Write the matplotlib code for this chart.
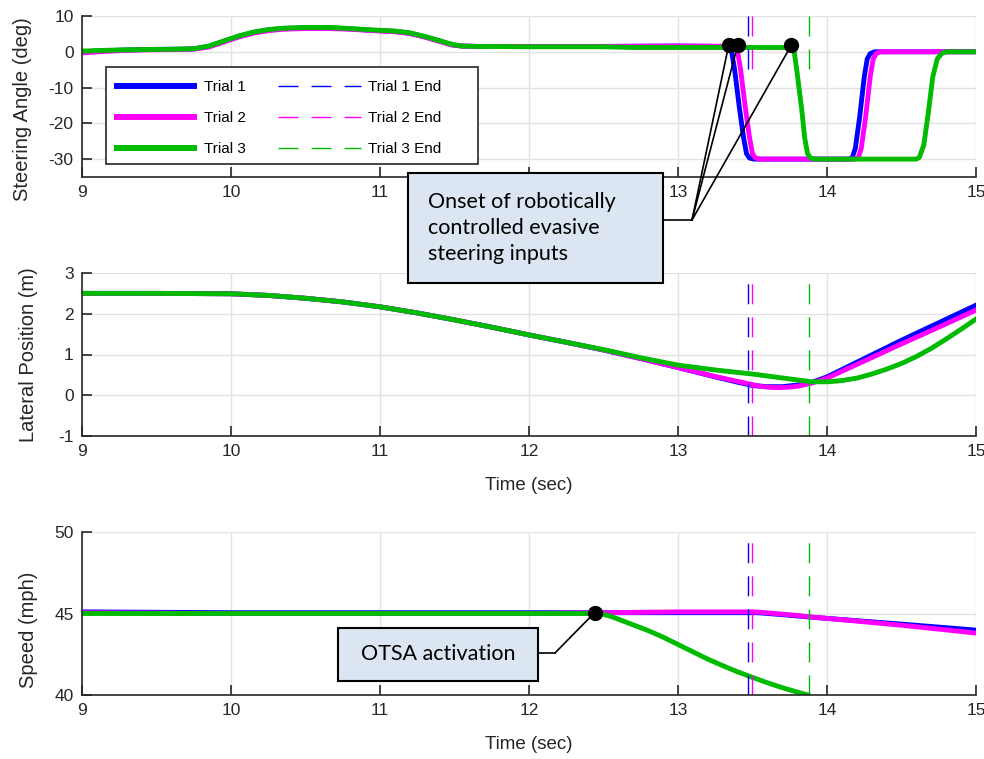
import matplotlib.pyplot as plt
from matplotlib.patches import Rectangle, ConnectionPatch
from matplotlib.lines import Line2D

plt.rcParams['font.family'] = ['Liberation Sans', 'DejaVu Sans']
plt.rcParams['axes.unicode_minus'] = False

# ---- data ----
# steering angle (deg), shared pre-manoeuvre part
t_pre = [9.0, 9.15, 9.3, 9.45, 9.6, 9.75, 9.85, 9.95, 10.05, 10.15, 10.25, 10.35, 10.5,
         10.65, 10.8, 10.95, 11.1, 11.2, 11.3, 11.4, 11.48, 11.55, 11.65, 12.0, 12.5]
steer_pre_1 = [0.0, 0.3, 0.5, 0.65, 0.7, 0.8, 1.5, 2.9, 4.3, 5.4, 6.1, 6.5, 6.7,
               6.7, 6.4, 6.0, 5.7, 5.2, 4.2, 3.0, 2.0, 1.6, 1.5, 1.5, 1.5]
steer_pre_2 = [-0.3, 0.1, 0.4, 0.55, 0.6, 0.75, 1.3, 2.7, 4.1, 5.2, 5.9, 6.3, 6.5,
               6.5, 6.3, 5.9, 5.6, 5.1, 4.1, 2.9, 1.9, 1.6, 1.5, 1.5, 1.5]
steer_pre_3 = [0.2, 0.4, 0.55, 0.65, 0.7, 0.85, 1.6, 3.0, 4.4, 5.5, 6.2, 6.6, 6.8,
               6.8, 6.5, 6.1, 5.8, 5.3, 4.3, 3.1, 2.1, 1.6, 1.5, 1.4, 1.4]

# evasive steering part
t_man_1 = [13.0, 13.33, 13.36, 13.38, 13.41, 13.44, 13.46, 13.48, 13.51, 14.15, 14.17,
           14.19, 14.22, 14.25, 14.27, 14.29, 14.32, 15.0]
steer_man_1 = [1.6, 1.5, 0.0, -5.0, -15.0, -24.0, -28.5, -29.7, -30.0, -30.0, -29.5,
               -27.0, -18.0, -7.0, -2.0, -0.5, 0.0, 0.0]
t_man_2 = [13.0, 13.37, 13.4, 13.42, 13.45, 13.48, 13.5, 13.52, 13.55, 14.19, 14.21,
           14.23, 14.26, 14.29, 14.31, 14.33, 14.36, 15.0]
steer_man_2 = [1.6, 1.5, 0.0, -5.0, -15.0, -24.0, -28.5, -29.7, -30.0, -30.0, -29.5,
               -27.0, -18.0, -7.0, -2.0, -0.5, 0.0, 0.0]
t_man_3 = [12.7, 13.76, 13.78, 13.8, 13.83, 13.85, 13.87, 13.89, 13.92, 14.6, 14.62,
           14.65, 14.68, 14.71, 14.74, 14.77, 14.8, 15.0]
steer_man_3 = [1.2, 1.2, 0.0, -6.0, -16.0, -24.0, -28.5, -29.7, -30.0, -30.0, -29.5,
               -26.0, -17.0, -7.0, -2.0, -0.5, 0.0, 0.0]

# lateral position (m)
t_lat_1 = [9.0, 9.5, 10.0, 10.25, 10.5, 10.75, 11.0, 11.25, 11.5, 11.75, 12.0, 12.25,
           12.5, 12.75, 13.0, 13.25, 13.4, 13.5, 13.6, 13.7, 13.8, 13.9, 14.0, 14.25,
           14.5, 14.75, 15.0]
lat_1 = [2.5, 2.5, 2.49, 2.45, 2.38, 2.29, 2.17, 2.02, 1.85, 1.67, 1.48, 1.3,
         1.11, 0.9, 0.68, 0.45, 0.32, 0.24, 0.21, 0.21, 0.25, 0.32, 0.45, 0.9,
         1.35, 1.78, 2.21]
t_lat_2 = [9.0, 9.5, 10.0, 10.25, 10.5, 10.75, 11.0, 11.25, 11.5, 11.75, 12.0, 12.25,
           12.5, 12.75, 13.0, 13.25, 13.4, 13.5, 13.55, 13.6, 13.65, 13.7, 13.75,
           13.8, 13.85, 13.9, 14.0, 14.25, 14.5, 14.75, 15.0]
lat_2 = [2.5, 2.5, 2.49, 2.45, 2.38, 2.29, 2.17, 2.02, 1.85, 1.67, 1.48, 1.3,
         1.11, 0.9, 0.68, 0.46, 0.34, 0.26, 0.22, 0.2, 0.19, 0.19, 0.2,
         0.22, 0.26, 0.3, 0.42, 0.84, 1.26, 1.67, 2.09]
t_lat_3 = [9.0, 9.5, 10.0, 10.25, 10.5, 10.75, 11.0, 11.25, 11.5, 11.75, 12.0, 12.25,
           12.5, 12.75, 13.0, 13.25, 13.5, 13.75, 13.9, 14.0, 14.1, 14.2, 14.3, 14.4,
           14.5, 14.6, 14.7, 14.8, 14.9, 15.0]
lat_3 = [2.5, 2.5, 2.49, 2.45, 2.38, 2.29, 2.17, 2.02, 1.85, 1.67, 1.48, 1.3,
         1.12, 0.92, 0.74, 0.62, 0.52, 0.4, 0.33, 0.33, 0.36, 0.42, 0.52, 0.64,
         0.78, 0.95, 1.15, 1.38, 1.62, 1.87]

# speed (mph)
t_speed_12 = [9.0, 10.0, 11.0, 12.0, 12.5, 13.0, 13.5, 13.55, 13.6, 13.7, 13.8, 13.9,
              14.0, 14.5, 15.0]
speed_1 = [45.1, 45.05, 45.05, 45.05, 45.05, 45.05, 45.05, 45.04, 45.0, 44.93, 44.85,
           44.77, 44.7, 44.35, 43.98]
speed_2 = [45.05, 45.0, 45.0, 45.0, 45.05, 45.1, 45.1, 45.08, 45.04, 44.96, 44.88,
           44.78, 44.7, 44.28, 43.8]
t_speed_3 = [9.0, 10.0, 11.0, 12.0, 12.45, 12.5, 12.55, 12.6, 12.7, 12.8, 12.9, 13.0,
             13.1, 13.2, 13.3, 13.4, 13.5, 13.6, 13.7, 13.8, 13.87]
speed_3 = [45.0, 45.0, 45.0, 45.0, 45.0, 44.95, 44.82, 44.65, 44.3, 43.95, 43.55, 43.1,
           42.65, 42.2, 41.8, 41.42, 41.08, 40.75, 40.45, 40.18, 40.0]

# trial end times (sec)
trial_end = [13.47, 13.50, 13.88]

# annotated events
onset_t = [13.34, 13.40, 13.76]
onset_v = [1.8, 1.8, 1.8]
otsa_t = 12.44
otsa_v = 45.05

labels = ['Trial 1', 'Trial 2', 'Trial 3']
colors = ['#0000FF', '#FF00FF', '#00BB00']

# ---- figure ----
W, H = 984, 759
fig = plt.figure(figsize=(W / 100, H / 100), dpi=100)


def px_axes(top, bottom):
    return [82 / W, 1 - bottom / H, (976 - 82) / W, (bottom - top) / H]


ax1 = fig.add_axes(px_axes(16, 177))
ax2 = fig.add_axes(px_axes(273, 436))
ax3 = fig.add_axes(px_axes(532, 695))

lw = 3.5
dash = (0, (14.4, 9.4))

steer = [(t_pre + t_man_1, steer_pre_1 + steer_man_1),
         (t_pre + t_man_2, steer_pre_2 + steer_man_2),
         (t_pre + t_man_3, steer_pre_3 + steer_man_3)]
for (t, v), c in zip(steer, colors):
    ax1.plot(t, v, color=c, lw=lw)
for x, c in zip(trial_end, colors):
    ax1.plot([x, x], [10, -6], color=c, lw=1.0, linestyle=dash)
ax1.plot(onset_t, onset_v, 'o', color='k', ms=10, zorder=5)

for t, v, c in zip([t_lat_1, t_lat_2, t_lat_3], [lat_1, lat_2, lat_3], colors):
    ax2.plot(t, v, color=c, lw=lw)
for x, c in zip(trial_end, colors):
    ax2.plot([x, x], [-1, 3], color=c, lw=1.0, linestyle=dash)

ax3.plot(t_speed_12, speed_1, color=colors[0], lw=lw)
ax3.plot(t_speed_12, speed_2, color=colors[1], lw=lw)
ax3.plot(t_speed_3, speed_3, color=colors[2], lw=lw)
for x, c in zip(trial_end, colors):
    ax3.plot([x, x], [40, 50], color=c, lw=1.0, linestyle=dash)
ax3.plot([otsa_t], [otsa_v], 'o', color='k', ms=10, zorder=5)

lab_fs = 14.5
ax1.set_ylim(-35, 10)
ax1.set_yticks([-30, -20, -10, 0, 10])
ax1.set_ylabel('Steering Angle (deg)', fontsize=lab_fs)
ax1.yaxis.set_label_coords(-0.056, 0.42)
ax2.set_ylim(-1, 3)
ax2.set_yticks([-1, 0, 1, 2, 3])
ax2.set_ylabel('Lateral Position (m)', fontsize=lab_fs)
ax2.yaxis.set_label_coords(-0.049, 0.5)
ax2.set_xlabel('Time (sec)', fontsize=13.5, labelpad=13)
ax3.set_ylim(40, 50)
ax3.set_yticks([40, 45, 50])
ax3.set_ylabel('Speed (mph)', fontsize=lab_fs)
ax3.yaxis.set_label_coords(-0.049, 0.4)
ax3.set_xlabel('Time (sec)', fontsize=13.5, labelpad=13)

for ax in (ax1, ax2, ax3):
    ax.set_xlim(9, 15)
    ax.set_xticks(range(9, 16))
    ax.grid(True, color='#E2E2E2', lw=1)
    ax.set_axisbelow(True)
    ax.spines['top'].set_visible(False)
    ax.spines['right'].set_visible(False)
    for s in ('left', 'bottom'):
        ax.spines[s].set_color('#262626')
        ax.spines[s].set_linewidth(1.2)
    ax.tick_params(direction='in', length=7, width=1.2, colors='#262626',
                   labelsize=12.5, pad=6)
    ax.yaxis.label.set_color('#262626')
    ax.xaxis.label.set_color('#262626')

# the "12" of the top axis sits under the callout box in the reference
ax1.get_xticklabels()[3].set_visible(False)

# ---- legend ----
fig.add_artist(Rectangle((106 / W, 1 - 164 / H), (478 - 106) / W, (164 - 67) / H,
                         transform=fig.transFigure, facecolor='white',
                         edgecolor='#262626', lw=1.2, zorder=4))
handles = [Line2D([], [], color=c, lw=4.3, solid_capstyle='butt') for c in colors]
handles += [Line2D([], [], color=c, lw=1.0, linestyle=dash, dash_capstyle='butt')
            for c in colors]
leg_labels = labels + [l + ' End' for l in labels]
fig.legend(handles, leg_labels, ncol=2, loc='upper left',
           bbox_to_anchor=(98.5 / W, 1 - 65 / H), frameon=False, fontsize=11,
           handlelength=5.43, handletextpad=0.45, columnspacing=2.15,
           labelspacing=1.1, borderpad=0.5).set_zorder(5)

# ---- annotations ----
box_font = ['Lato', 'DejaVu Sans']
fig.add_artist(Rectangle((408 / W, 1 - 283 / H), (663 - 408) / W, (283 - 173) / H,
                         transform=fig.transFigure, facecolor='#DCE6F2',
                         edgecolor='black', lw=1.5, zorder=4))
fig.text(428 / W, 1 - 228 / H, 'Onset of robotically\ncontrolled evasive\nsteering inputs',
         ha='left', va='center', fontsize=15.5, family=box_font, linespacing=1.38,
         zorder=5)
fig.add_artist(Line2D([663 / W, 692 / W], [1 - 220 / H, 1 - 220 / H],
                      transform=fig.transFigure, color='black', lw=1.2, zorder=3))
for x, y in zip(onset_t, onset_v):
    fig.add_artist(ConnectionPatch(xyA=(692, H - 220), coordsA='figure pixels',
                                   xyB=(x, y), coordsB=ax1.transData,
                                   color='black', lw=1.2, zorder=3))

fig.add_artist(Rectangle((338 / W, 1 - 681 / H), (538 - 338) / W, (681 - 628) / H,
                         transform=fig.transFigure, facecolor='#DCE6F2',
                         edgecolor='black', lw=1.5, zorder=4))
fig.text(438 / W, 1 - 654 / H, 'OTSA activation', ha='center', va='center',
         fontsize=15.5, family=box_font, zorder=5)
fig.add_artist(Line2D([538 / W, 555 / W], [1 - 653 / H, 1 - 653 / H],
                      transform=fig.transFigure, color='black', lw=1.2, zorder=3))
fig.add_artist(ConnectionPatch(xyA=(555, H - 653), coordsA='figure pixels',
                               xyB=(otsa_t, otsa_v), coordsB=ax3.transData,
                               color='black', lw=1.2, zorder=3))

fig.savefig('out.png', dpi=100)
